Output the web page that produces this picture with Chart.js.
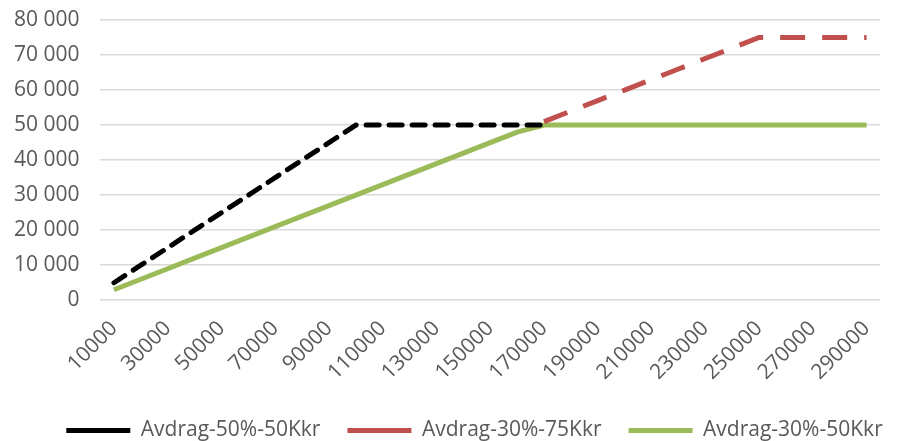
<!DOCTYPE html>
<html>
<head>
<meta charset="utf-8">
<script src="https://cdn.jsdelivr.net/npm/chart.js@4"></script>
<style>
    html, body { margin: 0; padding: 0; background: #fff; }
    #wrap { width: 906px; height: 441px; }
</style>
</head>
<body>
<div id="wrap"><canvas id="avdragChart"></canvas></div>
<script>
const incomes = [10000, 20000, 30000, 40000, 50000, 60000, 70000, 80000, 90000, 100000,
    110000, 120000, 130000, 140000, 150000, 160000, 170000, 180000, 190000, 200000,
    210000, 220000, 230000, 240000, 250000, 260000, 270000, 280000, 290000];

const avdrag50_50 = [5000, 10000, 15000, 20000, 25000, 30000, 35000, 40000, 45000, 50000,
    50000, 50000, 50000, 50000, 50000, 50000, 50000, null, null, null,
    null, null, null, null, null, null, null, null, null];

const avdrag30_75 = [null, null, null, null, null, null, null, null, null, null,
    null, null, null, null, null, null, 51000, 54000, 57000, 60000,
    63000, 66000, 69000, 72000, 75000, 75000, 75000, 75000, 75000];

const avdrag30_50 = [3000, 6000, 9000, 12000, 15000, 18000, 21000, 24000, 27000, 30000,
    33000, 36000, 39000, 42000, 45000, 48000, 50000, 50000, 50000, 50000,
    50000, 50000, 50000, 50000, 50000, 50000, 50000, 50000, 50000];

const yTicks = [0, 10000, 20000, 30000, 40000, 50000, 60000, 70000, 80000];

document.addEventListener("DOMContentLoaded", function () {
    const ctx = document.getElementById("avdragChart").getContext("2d");
    const textColor = "#595959";
    const font = { family: "'Open Sans'", size: 21 };

    // legend in the original sits a bit right of centre
    const legendShift = {
        id: "legendShift",
        afterLayout(chart) {
            chart.legend.left += 38;
            chart.legend.right += 38;
        }
    };

    new Chart(ctx, {
        type: "line",
        data: {
            labels: incomes,
            datasets: [{
                label: "Avdrag-50%-50Kkr",
                data: avdrag50_50,
                borderColor: "#000000",
                backgroundColor: "#000000",
                borderWidth: 5,
                borderDash: [13, 10],
                borderCapStyle: "round",
                pointRadius: 0,
                pointStyle: "line"
            }, {
                label: "Avdrag-30%-75Kkr",
                data: avdrag30_75,
                borderColor: "#C0504D",
                backgroundColor: "#C0504D",
                borderWidth: 5,
                borderDash: [25, 17],
                pointRadius: 0,
                pointStyle: "line"
            }, {
                label: "Avdrag-30%-50Kkr",
                data: avdrag30_50,
                borderColor: "#9BBB59",
                backgroundColor: "#9BBB59",
                borderWidth: 5,
                pointRadius: 0,
                pointStyle: "line"
            }]
        },
        options: {
            responsive: true,
            maintainAspectRatio: false,
            animation: false,
            layout: { padding: { top: 0, right: 26, left: -7, bottom: -10 } },
            scales: {
                x: {
                    offset: true,
                    grid: { display: false },
                    border: { display: false },
                    ticks: {
                        color: textColor,
                        font: font,
                        autoSkip: false,
                        minRotation: 45,
                        maxRotation: 45,
                        padding: 8,
                        callback: function (val, i) {
                            return i % 2 === 0 ? incomes[i] : "";
                        }
                    }
                },
                y: {
                    min: 0,
                    max: 80000,
                    afterBuildTicks: function (axis) {
                        axis.ticks = yTicks.map(v => ({ value: v }));
                    },
                    // chart.js reserves too much room above the top tick otherwise
                    afterFit: function (axis) {
                        axis.paddingTop = 20;
                        axis.paddingBottom = 12;
                    },
                    grid: { color: "#d9d9d9", lineWidth: 1.5, drawTicks: false },
                    border: { display: false },
                    ticks: {
                        color: textColor,
                        font: font,
                        padding: 21,
                        autoSkip: false,
                        callback: v => v.toString().replace(/\B(?=(\d{3})+(?!\d))/g, " ")
                    }
                }
            },
            plugins: {
                legend: {
                    position: "bottom",
                    labels: {
                        color: textColor,
                        font: font,
                        usePointStyle: true,
                        boxWidth: 64,
                        pointStyleWidth: 64,
                        padding: 27
                    }
                },
                tooltip: { enabled: false }
            }
        },
        plugins: [legendShift]
    });
});
</script>
</body>
</html>
